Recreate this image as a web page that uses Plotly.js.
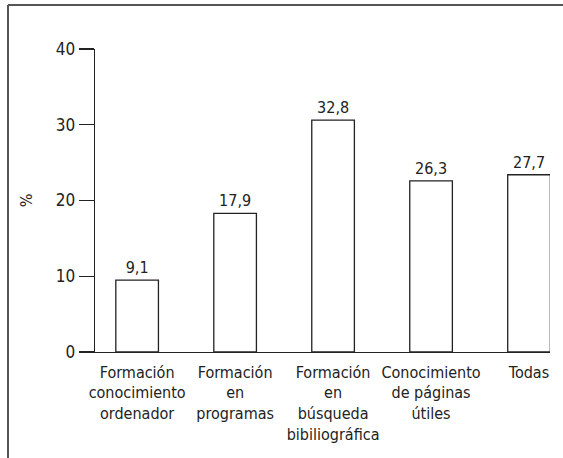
<!DOCTYPE html>
<html>
<head>
<meta charset="utf-8">
<script src="https://cdn.plot.ly/plotly-3.0.1.min.js"></script>
<style>
html,body{margin:0;padding:0;background:#fff;}
#chart{width:563px;height:458px;}
</style>
</head>
<body>
<div id="chart"></div>
<script>
const categories = [
  "Formación<br>conocimiento<br>ordenador",
  "Formación<br>en<br>programas",
  "Formación<br>en<br>búsqueda<br>bibiliográfica",
  "Conocimiento<br>de páginas<br>útiles",
  "Todas"
];
const barHeights = [9.5, 18.3, 30.6, 22.6, 23.4];
const valueLabels = ["9,1", "17,9", "32,8", "26,3", "27,7"];
const yTicks = [0, 10, 20, 30, 40];

const FONT = '"DejaVu Sans Condensed", sans-serif';

const W = 563, H = 458;
const L = 95, R = 13, T = 49, B = 106;
const pw = W - L - R, ph = H - T - B;
const px = x => (x - L) / pw;
const py = y => (H - B - y) / ph;

const trace = {
  type: 'bar',
  x: categories,
  y: barHeights,
  text: valueLabels,
  textposition: 'outside',
  cliponaxis: false,
  textfont: {family: FONT, size: 16, color: '#222'},
  marker: {color: '#ffffff', line: {color: '#222', width: 1.3}},
  width: 0.435,
  hoverinfo: 'none'
};

const layout = {
  width: W, height: H,
  margin: {l: L, r: R, t: T, b: B},
  paper_bgcolor: '#fff',
  plot_bgcolor: '#fff',
  showlegend: false,
  font: {family: FONT, size: 16, color: '#222'},
  xaxis: {
    type: 'category',
    range: [-0.43, 4.214],
    showline: true, linecolor: '#222', linewidth: 1.3,
    ticks: '', showgrid: false, zeroline: false,
    tickangle: 0,
    tickfont: {family: FONT, size: 16, color: '#222'},
    ticklabelstandoff: 5
  },
  yaxis: {
    range: [0, 40],
    tickvals: yTicks,
    ticktext: yTicks.map(String),
    showline: true, linecolor: '#222', linewidth: 1.3,
    ticks: 'outside', ticklen: 15, tickwidth: 1.3, tickcolor: '#222',
    showgrid: false, zeroline: false,
    tickfont: {family: FONT, size: 17, color: '#222'},
    title: {text: '%', font: {family: FONT, size: 16, color: '#222'}, standoff: 19}
  },
  shapes: [
    {type: 'line', xref: 'paper', yref: 'paper', x0: px(8), x1: px(563), y0: py(5), y1: py(5), line: {color: '#555', width: 2}},
    {type: 'line', xref: 'paper', yref: 'paper', x0: px(8), x1: px(8), y0: py(5), y1: py(458), line: {color: '#555', width: 2}}
  ]
};

Plotly.newPlot('chart', [trace], layout, {displayModeBar: false, staticPlot: true});
</script>
</body>
</html>
